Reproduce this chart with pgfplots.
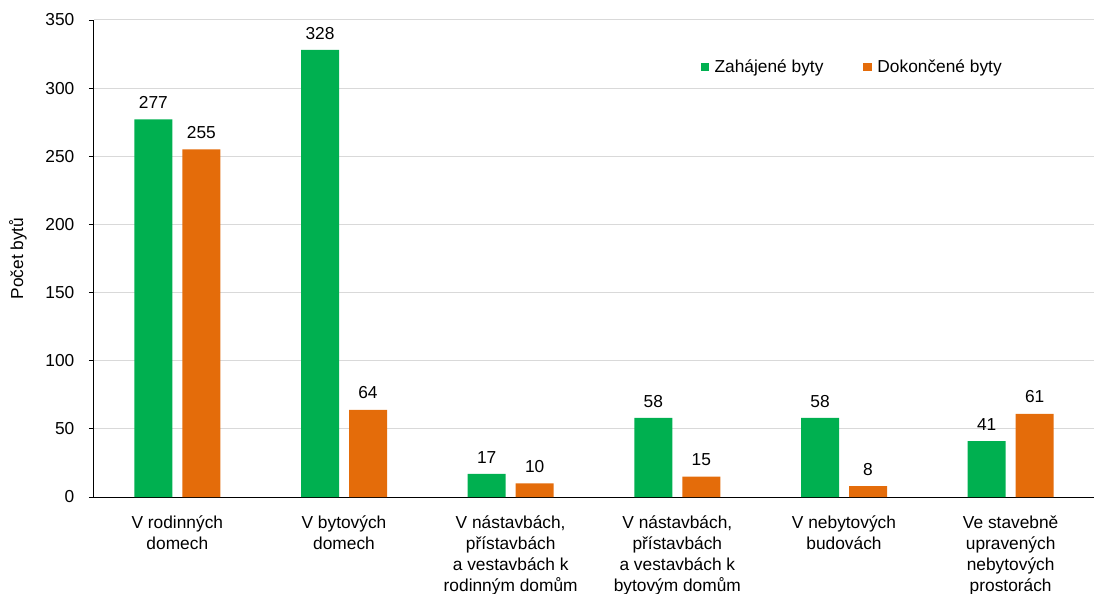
\documentclass[border=0pt]{standalone}
\usepackage{pgfplots}
\pgfplotsset{compat=1.18}
\usepackage{fontspec}
\setmainfont{Liberation Sans}
\definecolor{cgreen}{RGB}{0,176,80}
\definecolor{corange}{RGB}{228,108,10}
\definecolor{cgrid}{RGB}{217,217,217}
\begin{document}
\begin{tikzpicture}
\useasboundingbox (-70.5pt,-72pt) rectangle (751.5pt,372.75pt);
\begin{axis}[
  scale only axis,
  width=750pt, height=357.75pt,
  font=\fontsize{13}{15}\selectfont,
  ybar, bar width=28.5pt,
  legend image code/.code={\fill[#1,draw=none] (0pt,-3.2pt) rectangle (6.5pt,3.2pt); \path (8.5pt,0pt);},
  xmin=-0.5, xmax=5.5,
  ymin=0, ymax=350,
  ytick={0,50,...,350},
  xtick={0,1,2,3,4,5},
  xticklabels={{V rodinných\\domech},{V bytových\\domech},{V nástavbách,\\přístavbách\\a vestavbách k\\rodinným domům},{V nástavbách,\\přístavbách\\a vestavbách k\\bytovým domům},{V nebytových\\budovách},{Ve stavebně\\upravených\\nebytových\\prostorách}},
  xticklabel style={align=center, yshift=-7pt, font=\fontsize{13}{15.6}\selectfont},
  yticklabel style={xshift=-7.5pt},
  x tick style={draw=none},
  y tick style={black, line width=0.6pt},
  tick align=outside,
  major tick length=3.75pt,
  axis x line*=bottom, axis y line*=left,
  axis line style={black, line width=0.75pt, -},
  ymajorgrids, grid style={cgrid, line width=0.75pt},
  /pgf/number format/assume math mode=true,
  ylabel={Počet bytů},
  ylabel style={at={(axis description cs:-0.076,0.5)}, anchor=center},
  nodes near coords,
  every node near coord/.append style={black, yshift=4.5pt, font=\fontsize{13}{15}\selectfont},
  legend style={at={(axis description cs:0.7585,0.901)}, anchor=center, legend columns=2, draw=none, fill=none, font=\fontsize{13}{15}\selectfont, /tikz/every even column/.append style={column sep=28pt}},
  legend cell align=left,
]
\addplot[fill=cgreen, draw=none, bar shift=-18pt] coordinates {(0,277) (1,328) (2,17) (3,58) (4,58) (5,41)};
\addplot[fill=corange, draw=none, bar shift=18pt] coordinates {(0,255) (1,64) (2,10) (3,15) (4,8) (5,61)};
\legend{Zahájené byty, Dokončené byty}
\end{axis}
\end{tikzpicture}
\end{document}
